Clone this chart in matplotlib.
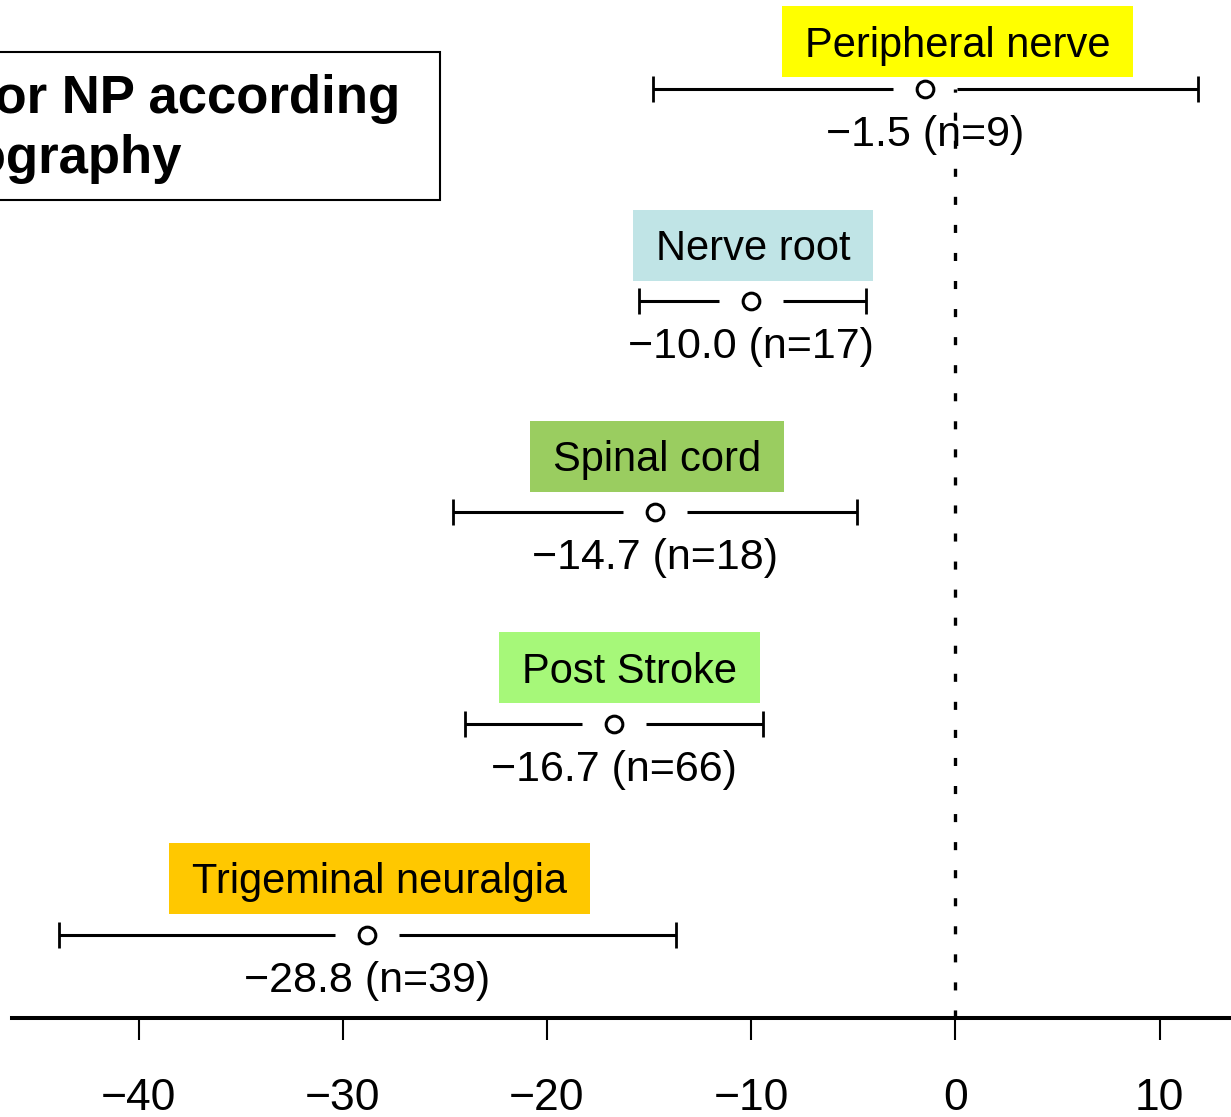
import matplotlib
matplotlib.use("Agg")
import matplotlib.pyplot as plt
from matplotlib.patches import Rectangle
from matplotlib.transforms import IdentityTransform

# ---------------- data ----------------
categories = ["Peripheral nerve", "Nerve root", "Spinal cord", "Post Stroke", "Trigeminal neuralgia"]
means = [-1.5, -10.0, -14.7, -16.7, -28.8]
lower = [-14.8, -15.5, -24.6, -24.0, -43.9]
upper = [11.9, -4.4, -4.8, -9.4, -13.7]
n_obs = [9, 17, 18, 66, 39]
xticks = [-40, -30, -20, -10, 0, 10]
title_lines = ["for NP according", "topography"]

# ---------------- style / layout ----------------
box_colors = ["#FFFF00", "#C0E4E6", "#9ACD60", "#A6F879", "#FFC800"]
# box-centre offsets (pixels) relative to the point estimate
label_offsets = [(33, 47.5), (2, 55.5), (2, 56), (15, 56), (12, 57)]

plt.rcParams["font.family"] = ["Liberation Sans", "DejaVu Sans"]
plt.rcParams["lines.scale_dashes"] = False

W, H, DPI = 1231, 1117, 100
fig = plt.figure(figsize=(W / DPI, H / DPI), dpi=DPI)
fig.patch.set_facecolor("white")

ax_left, ax_right, ax_base = 12, 1231, 1018
ax = fig.add_axes([ax_left / W, (H - ax_base) / H, (ax_right - ax_left) / W, ax_base / H])
ax.set_xlim(-46.2, 13.5)
ax.set_ylim(-0.392, 4.421)
ax.patch.set_alpha(0)

for s in ["left", "right", "top"]:
    ax.spines[s].set_visible(False)
ax.spines["bottom"].set_linewidth(2.9)
ax.set_yticks([])
ax.set_xticks(xticks)
ax.set_xticklabels([str(t).replace("-", "\u2212") for t in xticks])
ax.tick_params(axis="x", direction="out", length=16, width=1.5, pad=27, labelsize=32)

nrow = len(categories)
ypos = [nrow - 1 - i for i in range(nrow)]

px_per_unit = (ax_right - ax_left) / (13.5 - (-46.2))
gap = 32 / px_per_unit

# reference dashed line at 0
ax.plot([0, 0], [-0.392, ypos[0]], color="black", lw=2.4, dashes=(5.8, 14.4), zorder=1)

for i, cat in enumerate(categories):
    y = ypos[i]
    m, lo, hi = means[i], lower[i], upper[i]
    ax.plot([lo, m - gap], [y, y], color="black", lw=2.2, solid_capstyle="butt", zorder=2)
    ax.plot([m + gap, hi], [y, y], color="black", lw=2.2, solid_capstyle="butt", zorder=2)
    ax.plot([lo, hi], [y, y], ls="none", marker="|", ms=19, mew=2.0, color="black", zorder=2)
    ax.plot([m], [y], ls="none", marker="o", ms=12, mew=2.2, mfc="white", mec="black", zorder=3)
    lab = f"{m:.1f} (n={n_obs[i]})".replace("-", "\u2212")
    ax.annotate(lab, (m, y), xytext=(0, -46), textcoords="offset pixels",
                ha="center", va="center", fontsize=31, zorder=4)

# category labels with coloured boxes
cat_texts = []
for i, cat in enumerate(categories):
    dx, dy = label_offsets[i]
    t = ax.annotate(cat, (means[i], ypos[i]), xytext=(dx, dy - 15), textcoords="offset pixels",
                    ha="center", va="baseline", fontsize=30, zorder=6)
    cat_texts.append(t)

fig.canvas.draw()
renderer = fig.canvas.get_renderer()
for i, t in enumerate(cat_texts):
    ext = t.get_window_extent(renderer)
    cx, cy = ax.transData.transform((means[i], ypos[i]))
    cy = cy + label_offsets[i][1]
    rect = Rectangle((ext.x0 - 23, cy - 35.5), ext.width + 46, 71,
                     transform=IdentityTransform(), facecolor=box_colors[i],
                     edgecolor="none", zorder=5)
    ax.add_patch(rect)

# title box (clipped at left edge in the reference)
fig.add_artist(Rectangle((-10 / W, (H - 200) / H), 450 / W, 148 / H, transform=fig.transFigure,
                         facecolor="white", edgecolor="black", lw=1.5, zorder=7))
fig.text(400 / W, (H - 113) / H, title_lines[0], ha="right", va="baseline",
         fontsize=38, fontweight="bold", zorder=8)
fig.text(182 / W, (H - 173) / H, title_lines[1], ha="right", va="baseline",
         fontsize=38, fontweight="bold", zorder=8)

fig.savefig("out.png", dpi=DPI)
